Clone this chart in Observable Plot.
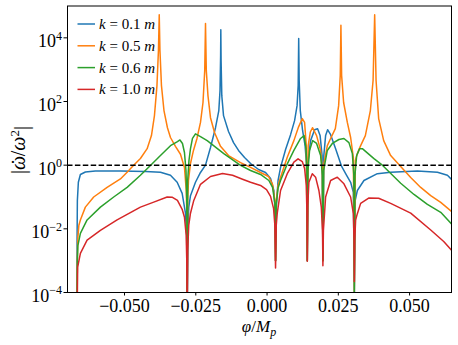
<!DOCTYPE html>
<html><head><meta charset="utf-8">
<script src="https://cdn.jsdelivr.net/npm/d3@7"></script>
<script src="https://cdn.jsdelivr.net/npm/@observablehq/plot@0.6"></script>
<style>
html,body{margin:0;padding:0;background:#fff;overflow:hidden;}
svg text { font-family: "Liberation Serif", "Times New Roman", "DejaVu Serif", serif !important; }
</style></head><body><div id="chart"></div>
<script>
const kLabels = ["0.1", "0.5", "0.6", "1.0"];
const colors = ["#1f77b4", "#ff7f0e", "#2ca02c", "#d62728"];
const xTicks = [-0.05, -0.025, 0, 0.025, 0.05];
const yTicks = [1e-4, 1e-2, 1, 1e2, 1e4];

const phiBlue = [-0.06668,-0.06664,-0.06654,-0.06619,-0.06548,-0.06373,-0.06022,-0.05144,-0.04266,-0.03739,-0.03388,-0.03153,-0.02978,-0.02862,-0.02820,-0.02802,-0.02774,-0.02746,-0.02686,-0.02511,-0.02335,-0.02159,-0.01984,-0.01808,-0.01692,-0.01650,-0.01629,-0.01622,-0.01612,-0.01587,-0.01527,-0.01352,-0.01176,-0.01001,-0.00790,-0.00579,-0.00298,-0.00053,0.00123,0.00239,0.00281,0.00298,0.00327,0.00386,0.00474,0.00650,0.00825,0.00966,0.01053,0.01092,0.01110,0.01127,0.01166,0.01246,0.01334,0.01387,0.01412,0.01439,0.01527,0.01668,0.01773,0.01861,0.01931,0.01959,0.01991,0.02054,0.02124,0.02230,0.02405,0.02616,0.02791,0.02932,0.03027,0.03062,0.03093,0.03167,0.03399,0.03869,0.04336,0.05274,0.05976,0.06327,0.06478];
const valBlue = [1e-5,0.0044,0.078,0.29,0.51,0.61,0.65,0.66,0.63,0.60,0.48,0.29,0.13,0.031,0.0063,1e-5,0.013,0.048,0.11,0.29,0.59,1.0,3.6,15,52,220,2750,1.8e4,1900,150,36,11.4,5.1,2.9,1.74,1.13,0.73,0.59,0.38,0.16,0.038,1e-3,0.055,0.33,0.85,3.1,9.1,25,74,316,9500,455,52,12.3,4.1,1.0,1e-3,1.4,5.9,13,14,8.5,2.0,1e-3,2.0,8.5,13,9.1,3.3,0.91,0.48,0.29,0.14,1e-4,0.078,0.16,0.33,0.54,0.60,0.65,0.60,0.48,0.35];

const phiOrange = [-0.06668,-0.06661,-0.06643,-0.06601,-0.06548,-0.06373,-0.06081,-0.05611,-0.05144,-0.04909,-0.04688,-0.04442,-0.04206,-0.04055,-0.03950,-0.03862,-0.03810,-0.03782,-0.03757,-0.03704,-0.03616,-0.03494,-0.03388,-0.03213,-0.03037,-0.02897,-0.02834,-0.02813,-0.02802,-0.02784,-0.02756,-0.02686,-0.02581,-0.02458,-0.02335,-0.02247,-0.02187,-0.02159,-0.02131,-0.02072,-0.01984,-0.01843,-0.01633,-0.01352,-0.00930,-0.00579,-0.00228,0.00053,0.00193,0.00274,0.00298,0.00327,0.00386,0.00474,0.00709,0.00941,0.01106,0.01236,0.01317,0.01376,0.01412,0.01443,0.01517,0.01598,0.01738,0.01879,0.01938,0.01959,0.01984,0.02114,0.02230,0.02395,0.02511,0.02567,0.02591,0.02616,0.02686,0.02816,0.02932,0.03027,0.03062,0.03097,0.03167,0.03283,0.03448,0.03624,0.03719,0.03775,0.03824,0.03915,0.04091,0.04336,0.04688,0.05039,0.05390,0.05741,0.06092,0.06478];
const valOrange = [1e-5,4.9e-4,0.0044,0.013,0.019,0.048,0.10,0.20,0.37,0.60,0.98,1.62,3.3,8.5,36,316,4000,5.3e4,4000,316,52,15,7.4,3.9,2.2,0.85,0.16,0.026,1e-5,0.078,0.33,1.13,2.9,6.9,22,93,930,2.8e4,930,150,31,10.6,3.9,2.0,1.2,0.85,0.59,0.44,0.25,0.078,1e-3,0.078,0.23,0.42,1.78,5.9,16,29,22,4.1,1e-3,4.1,11,15,8.5,2.9,0.68,1e-3,1.0,4.1,6.9,14,74,650,2.5e4,650,93,22,7.4,1.74,1e-4,1.4,2.3,4.1,8.5,52,455,5.3e4,455,29,5.9,2.0,0.91,0.41,0.20,0.11,0.068,0.035];

const phiGreen = [-0.06668,-0.06654,-0.06636,-0.06548,-0.06313,-0.05846,-0.05379,-0.04909,-0.04442,-0.04091,-0.03739,-0.03388,-0.03143,-0.03055,-0.02967,-0.02897,-0.02844,-0.02816,-0.02802,-0.02784,-0.02739,-0.02686,-0.02616,-0.02511,-0.02335,-0.02100,-0.01517,-0.00930,-0.00579,-0.00228,0.00063,0.00193,0.00274,0.00298,0.00327,0.00386,0.00474,0.00709,0.00941,0.01176,0.01299,0.01369,0.01397,0.01412,0.01433,0.01492,0.01598,0.01738,0.01879,0.01942,0.01959,0.01984,0.02114,0.02289,0.02521,0.02697,0.02872,0.02992,0.03044,0.03062,0.03083,0.03143,0.03248,0.03343,0.03750,0.04055,0.04688,0.05154,0.05625,0.06092,0.06478];
const valGreen = [1e-5,0.001,0.003,0.0072,0.019,0.048,0.10,0.20,0.48,0.98,2.0,4.1,5.5,6.2,4.8,2.5,0.68,0.078,1e-5,0.33,1.4,3.3,6.9,9.6,7.9,5.9,2.3,0.98,0.68,0.51,0.33,0.20,0.063,1e-3,0.063,0.19,0.33,1.1,2.9,6.9,8.5,3.3,0.68,1e-3,0.68,2.9,5.9,4.8,2.0,0.48,1e-3,0.68,2.9,4.8,6.4,6.9,5.1,2.3,0.48,1e-4,0.48,2.0,3.3,3.3,1.6,0.98,0.27,0.12,0.059,0.033,0.014];

const phiRed = [-0.06668,-0.06643,-0.06548,-0.06313,-0.05846,-0.05260,-0.04442,-0.03975,-0.03504,-0.03318,-0.03143,-0.02978,-0.02897,-0.02837,-0.02816,-0.02802,-0.02784,-0.02746,-0.02686,-0.02570,-0.02335,-0.01984,-0.01563,-0.01211,-0.00860,-0.00579,-0.00228,-0.00018,0.00123,0.00228,0.00274,0.00298,0.00323,0.00358,0.00474,0.00709,0.00941,0.01088,0.01236,0.01317,0.01376,0.01397,0.01412,0.01429,0.01468,0.01587,0.01703,0.01819,0.01903,0.01945,0.01959,0.01977,0.02054,0.02230,0.02465,0.02697,0.02932,0.03027,0.03051,0.03062,0.03076,0.03107,0.03167,0.03283,0.03564,0.03915,0.04336,0.05039,0.05741,0.06197,0.06478];
const valRed = [1e-5,6.3e-4,0.0017,0.0044,0.0089,0.019,0.048,0.069,0.10,0.098,0.078,0.041,0.023,0.0063,0.001,1e-5,0.0021,0.013,0.031,0.078,0.25,0.44,0.55,0.48,0.36,0.29,0.23,0.17,0.105,0.044,0.013,5.9e-4,0.013,0.031,0.16,0.54,1.24,1.58,1.3,0.79,0.23,0.038,9.6e-4,0.055,0.29,0.54,0.42,0.16,0.048,0.0089,6.9e-4,0.0089,0.10,0.33,0.42,0.26,0.10,0.030,0.0044,2.2e-4,0.0044,0.019,0.030,0.063,0.093,0.091,0.063,0.031,0.0092,0.0040,0.0021];

const seriesPhi = [phiBlue, phiOrange, phiGreen, phiRed];
const seriesVal = [valBlue, valOrange, valGreen, valRed];
const data = kLabels.flatMap((k, i) => seriesPhi[i].map((p, j) => ({phi: p, w: seriesVal[i][j], k})));

const supFmt = d => { const e = Math.round(Math.log10(d)); return e < 0 ? "\u2212" + (-e) : String(e); };
const serif = "Liberation Serif, Times New Roman, DejaVu Serif, serif";

const plot = Plot.plot({
  width: 458, height: 345,
  marginLeft: 67, marginRight: 7, marginTop: 5.5, marginBottom: 53,
  style: {fontFamily: serif, fontSize: "18px", background: "white", color: "black"},
  x: {domain: [-0.0700, 0.0647]},
  y: {type: "log", domain: [1e-4, 1e5]},
  color: {domain: kLabels, range: colors},
  marks: [
    Plot.line(data, {x: "phi", y: "w", stroke: "k", z: "k", strokeWidth: 1.5, strokeLinejoin: "round", clip: true}),
    Plot.ruleY([1], {stroke: "black", strokeWidth: 1.5, strokeDasharray: "5.5,2.4"}),
    Plot.frame({stroke: "black", strokeWidth: 1}),
    Plot.axisX({ticks: xTicks, tickFormat: d3.format(".3f"), tickSize: 3.5, tickPadding: 3, label: null}),
    Plot.axisY({ticks: yTicks, tickFormat: supFmt, tickSize: 3.5, tickPadding: 2, label: null})
  ]
});
document.getElementById("chart").appendChild(plot);

const svg = d3.select(plot);
svg.selectAll('g[aria-label="y-axis tick label"] text').each(function() {
  const e = this.textContent;
  const t = d3.select(this);
  t.text(null);
  t.append("tspan").attr("dy", "0.2em").text("10");
  t.append("tspan").attr("dy", "-0.62em").attr("font-size", "12px").text(e);
});

// legend
const lg = svg.append("g").attr("text-anchor", "start");
kLabels.forEach((k, i) => {
  const y = 24 + i * 21.8;
  lg.append("line").attr("x1", 77.5).attr("x2", 95).attr("y1", y).attr("y2", y)
    .attr("stroke", colors[i]).attr("stroke-width", 1.5);
  const t = lg.append("text").attr("x", 99).attr("y", y + 5).attr("font-size", 15)
    .attr("fill", "black").attr("text-anchor", "start");
  t.append("tspan").attr("font-style", "italic").text("k");
  t.append("tspan").text(" = " + k + " ");
  t.append("tspan").attr("font-style", "italic").text("m");
});

// axis labels
const yl = svg.append("text").attr("transform", "translate(25,150) rotate(-90)")
  .attr("text-anchor", "middle").attr("font-size", 20).attr("fill", "black");
yl.append("tspan").text("|");
yl.append("tspan").attr("font-style", "italic").text("\u03C9");
yl.append("tspan").attr("dx", "-0.48em").attr("dy", "0.05em").text("\u02D9");
yl.append("tspan").attr("dx", "0.12em").attr("dy", "-0.05em").text("/");
yl.append("tspan").attr("font-style", "italic").text("\u03C9");
yl.append("tspan").attr("dy", "-0.45em").attr("font-size", 13).text("2");
yl.append("tspan").attr("dy", "0.45em").text("|");

const xl = svg.append("text").attr("x", 259).attr("y", 332)
  .attr("text-anchor", "middle").attr("font-size", 17).attr("fill", "black");
xl.append("tspan").attr("font-style", "italic").text("\u03C6");
xl.append("tspan").text("/");
xl.append("tspan").attr("font-style", "italic").text("M");
xl.append("tspan").attr("font-style", "italic").attr("dy", "0.3em").attr("font-size", 12).text("p");
</script></body></html>
